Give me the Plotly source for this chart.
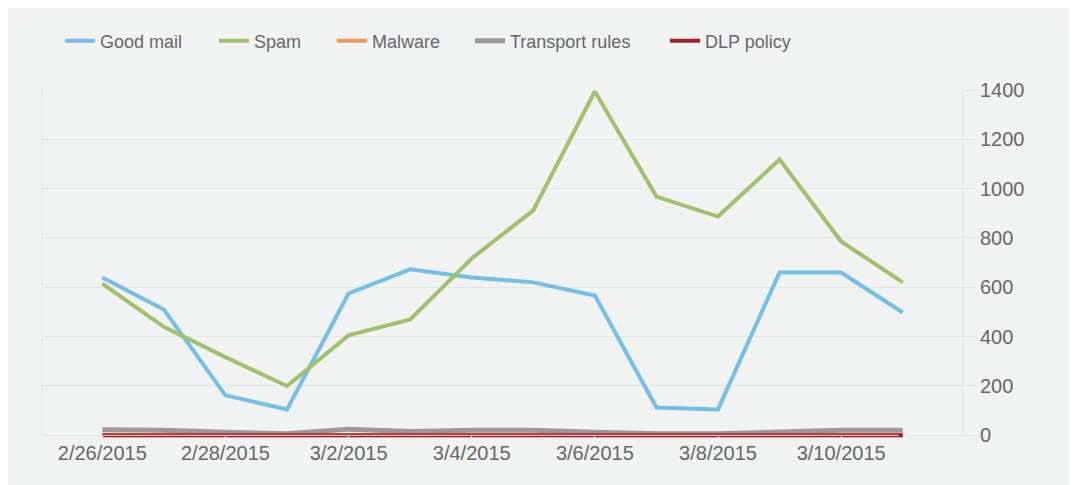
import plotly.graph_objects as go

dates = ["2015-02-26", "2015-02-27", "2015-02-28", "2015-03-01", "2015-03-02",
         "2015-03-03", "2015-03-04", "2015-03-05", "2015-03-06", "2015-03-07",
         "2015-03-08", "2015-03-09", "2015-03-10", "2015-03-11"]
good_mail = [640, 510, 162, 105, 575, 673, 640, 620, 567, 113, 105, 660, 660, 498]
spam = [615, 440, 317, 200, 405, 470, 717, 912, 1394, 968, 887, 1118, 786, 620]
malware = [0, 0, 0, 0, 0, 0, 0, 0, 0, 0, 0, 0, 0, 0]
transport_rules = [22, 20, 12, 6, 25, 15, 20, 20, 12, 6, 6, 15, 20, 20]
dlp_policy = [0, 0, 0, 0, 0, 0, 0, 0, 0, 0, 0, 0, 0, 0]

series = [
    ("Good mail", good_mail, "#72bfe9", 52),
    ("Spam", spam, "#9fc26b", 206),
    ("Malware", malware, "#e9985e", 324),
    ("Transport rules", transport_rules, "#9a9a9a", 462),
    ("DLP policy", dlp_policy, "#a51d25", 657),
]

W, H = 1077, 485
ML, MR, MT, MB = 34, 122, 82, 54
PW = W - ML - MR
PH = H - MT - MB

PANEL = "#f1f2f2"
GRID = "#e3e6e6"
TEXT = "#676767"
FONT = "Liberation Sans, Arial, sans-serif"

fig = go.Figure()
layout_legends = {}
for i, (name, vals, color, lx) in enumerate(series):
    lname = "legend" if i == 0 else f"legend{i+1}"
    width = 5 if name == "Transport rules" else 4
    fig.add_trace(go.Scatter(
        x=dates, y=vals, name=name, mode="lines",
        line=dict(color=color, width=width),
        legend=lname, hoverinfo="x+y+name",
    ))
    layout_legends[lname] = dict(
        x=(lx - ML) / PW, xanchor="left",
        y=(MT + PH - 33) / PH, yanchor="middle",
        orientation="h", bgcolor="rgba(0,0,0,0)",
        font=dict(family=FONT, size=18, color=TEXT),
        itemwidth=30,
    )

shapes = [
    # left and right frame lines
    dict(type="line", xref="paper", yref="y", x0=0, x1=0, y0=0, y1=1400,
         line=dict(color=GRID, width=1), layer="below"),
    dict(type="line", xref="paper", yref="y", x0=1, x1=1, y0=0, y1=1400,
         line=dict(color=GRID, width=1), layer="below"),
    # light axis line over the bottom band
    dict(type="line", xref="paper", yref="y", x0=0.06, x1=0.93, y0=0, y1=0,
         line=dict(color="#f0d6d6", width=1), layer="above"),
]

fig.update_layout(
    width=W, height=H,
    margin=dict(l=ML, r=MR, t=MT, b=MB, pad=0),
    paper_bgcolor=PANEL,
    plot_bgcolor=PANEL,
    font=dict(family=FONT, size=20, color=TEXT),
    shapes=shapes,
    showlegend=True,
    **layout_legends,
)

fig.update_xaxes(
    type="date",
    range=["2015-02-25 00:30", "2015-03-11 23:30"],
    tick0="2015-02-26", dtick=2 * 86400000,
    tickformat="%-m/%-d/%Y",
    showgrid=False, zeroline=False, showline=False,
    ticks="inside", ticklen=4, tickcolor="#f3e6e6",
    tickfont=dict(family=FONT, size=20, color=TEXT),
    layer="above traces",
)
fig.update_yaxes(
    side="right",
    range=[-15, 1400],
    tickvals=[0, 200, 400, 600, 800, 1000, 1200, 1400],
    showgrid=True, gridcolor=GRID, gridwidth=1,
    zeroline=False, showline=False,
    ticks="outside", ticklen=12, tickcolor=GRID,
    tickfont=dict(family=FONT, size=20, color=TEXT),
)

fig.write_html("out.html", post_script="document.body.style.overflow='hidden';")
